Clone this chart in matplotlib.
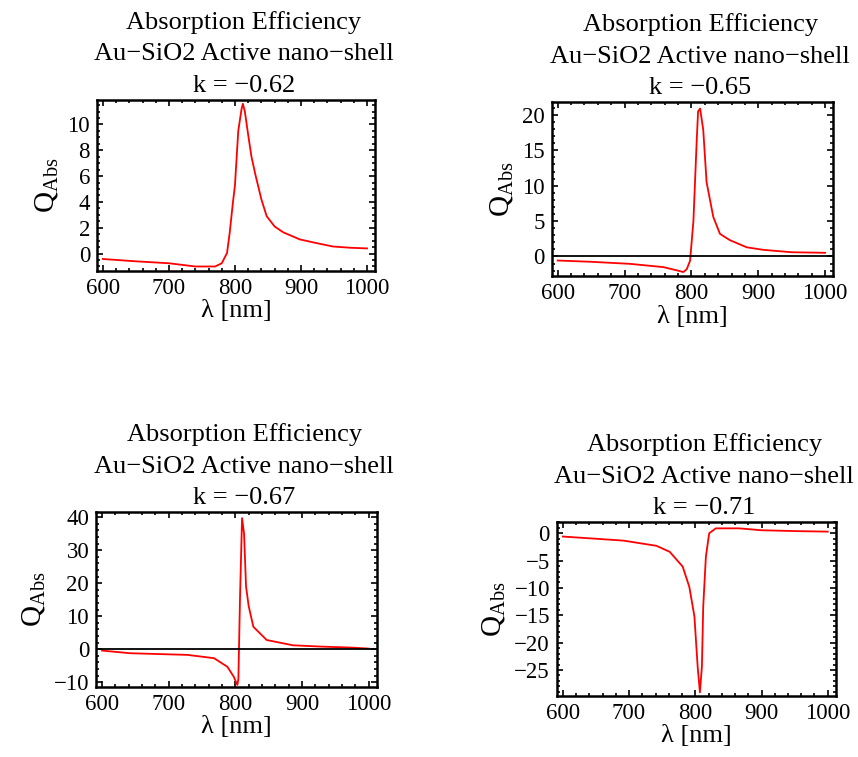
import matplotlib
matplotlib.use("Agg")
import matplotlib.pyplot as plt
from matplotlib.ticker import MultipleLocator

plt.rcParams['font.family'] = ['Liberation Serif', 'DejaVu Serif']
plt.rcParams['mathtext.fontset'] = 'custom'
plt.rcParams['mathtext.rm'] = 'Liberation Serif'

# wavelength (nm) / absorption efficiency
lam_62 = [600, 650, 700, 740, 770, 780, 788, 792, 797, 800, 805, 810, 812, 815, 820,
          825, 831, 840, 848, 860, 873, 898, 920, 948, 975, 1000]
q_62 = [-0.42, -0.6, -0.75, -1.0, -1.0, -0.75, 0.05, 1.6, 4.0, 5.3, 9.5, 11.2, 11.6, 11.0, 9.2,
        7.5, 6.1, 4.2, 2.9, 2.1, 1.65, 1.1, 0.85, 0.55, 0.45, 0.4]

lam_65 = [600, 650, 708, 758, 780, 788, 793, 798, 803, 808, 810, 813, 817.7, 822.7, 832.7,
          842.7, 857.7, 882.7, 907.5, 950, 1000]
q_65 = [-0.57, -0.75, -1.04, -1.5, -2.0, -2.2, -1.8, -0.6, 5.0, 16.5, 20.5, 20.9, 17.9, 10.5, 5.6,
        3.2, 2.3, 1.3, 0.94, 0.6, 0.52]

lam_67 = [600, 642, 728, 768, 788, 797.5, 803, 804.5, 807, 810, 813, 816, 820, 827, 847,
          886.5, 930, 975, 1000]
q_67 = [-0.4, -1.2, -1.7, -2.7, -5.3, -8.3, -10.8, -9.0, 16.0, 39.7, 35.0, 19.0, 13.0, 6.8, 2.8,
        1.2, 0.8, 0.5, 0.2]

lam_71 = [600, 650, 692, 741.6, 761.5, 781, 791, 798.7, 803.6, 807, 810, 812, 816, 821, 831,
          866, 900, 950, 1000]
q_71 = [-0.6, -1.0, -1.35, -2.3, -3.4, -6.1, -9.8, -15.2, -24.4, -29.1, -24.4, -13.4, -4.3, 0.0, 0.9,
        0.9, 0.55, 0.4, 0.3]

k_labels = ["-0.62", "-0.65", "-0.67", "-0.71"]

fig = plt.figure(figsize=(8.58, 7.57), dpi=100)


def panel(rect, lam, q, k, ylim, major, minor, zero_line):
    ax = fig.add_axes(rect)
    ax.plot(lam, q, color="red", lw=1.3)
    if zero_line:
        ax.axhline(0, color="black", lw=1.3)
    ax.set_xlim(591, 1012)
    ax.set_ylim(*ylim)
    ax.xaxis.set_major_locator(MultipleLocator(100))
    ax.xaxis.set_minor_locator(MultipleLocator(20))
    ax.yaxis.set_major_locator(MultipleLocator(major))
    ax.yaxis.set_minor_locator(MultipleLocator(minor))
    ax.tick_params(which="both", direction="in", top=True, right=True, labelsize=16.5, width=1.2)
    ax.tick_params(which="major", length=4, pad=5)
    ax.tick_params(which="minor", length=2.5)
    for s in ax.spines.values():
        s.set_linewidth(1.8)
    ax.yaxis.set_major_formatter(matplotlib.ticker.FuncFormatter(
        lambda v, p: ("%g" % v).replace("-", "\u2212")))
    ax.set_xlabel("\u03bb [nm]", fontsize=19, labelpad=1)
    ax.set_ylabel(r"$\mathrm{Q_{Abs}}$", fontsize=21, labelpad=5)
    ax.set_title("Absorption Efficiency\nAu\u2212SiO2 Active nano\u2212shell\nk = " +
                 k.replace("-", "\u2212"), fontsize=19, linespacing=1.55, pad=6, x=0.528)
    return ax


panel([0.113, 0.642, 0.324, 0.226], lam_62, q_62, k_labels[0], (-1.35, 11.9), 2, 0.5, False)
panel([0.643, 0.635, 0.328, 0.230], lam_65, q_65, k_labels[1], (-2.8, 21.8), 5, 1, True)
panel([0.112, 0.093, 0.327, 0.230], lam_67, q_67, k_labels[2], (-11.3, 41.4), 10, 2, True)
panel([0.649, 0.081, 0.325, 0.229], lam_71, q_71, k_labels[3], (-29.7, 2.0), 5, 1, False)

fig.savefig("out.png", dpi=100)
